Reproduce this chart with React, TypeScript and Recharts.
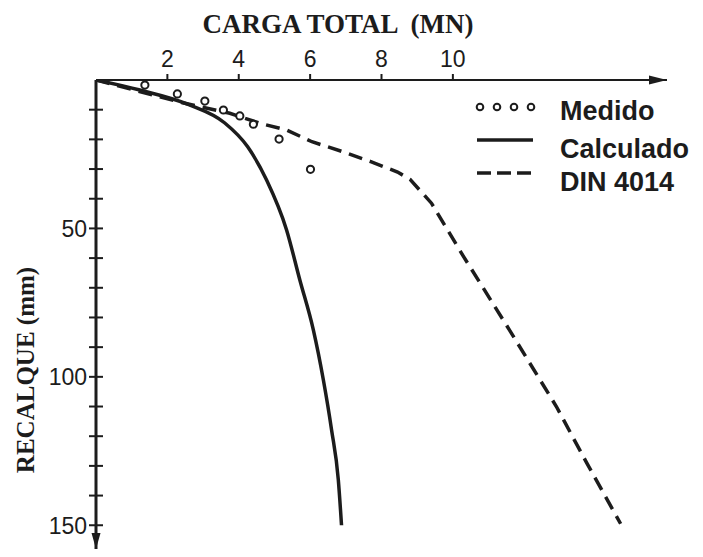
import React from "react";
import {
  ComposedChart,
  Line,
  Scatter,
  XAxis,
  YAxis,
  ReferenceDot,
} from "recharts";

// Carga total (MN) x recalque (mm)
const medido = [
  { x: 1.37, y: 1.7 },
  { x: 2.28, y: 4.7 },
  { x: 3.05, y: 7.1 },
  { x: 3.57, y: 10.1 },
  { x: 4.03, y: 12.1 },
  { x: 4.41, y: 14.9 },
  { x: 5.13, y: 19.9 },
  { x: 6.01, y: 30.1 },
];

const calculado = [
  { x: 0, y: 0 },
  { x: 1.2, y: 3.3 },
  { x: 2.6, y: 8.3 },
  { x: 3.6, y: 14.4 },
  { x: 4.25, y: 22.5 },
  { x: 4.78, y: 33.7 },
  { x: 5.34, y: 50.5 },
  { x: 5.71, y: 67.3 },
  { x: 6.09, y: 84.2 },
  { x: 6.37, y: 101 },
  { x: 6.6, y: 117.8 },
  { x: 6.79, y: 134.7 },
  { x: 6.88, y: 150 },
];

const din4014 = [
  { x: 0, y: 0 },
  { x: 2.4, y: 7.6 },
  { x: 3.75, y: 11.2 },
  { x: 4.6, y: 14.6 },
  { x: 5.35, y: 16.9 },
  { x: 6.05, y: 20.8 },
  { x: 6.9, y: 24.1 },
  { x: 7.7, y: 27.5 },
  { x: 8.45, y: 31 },
  { x: 8.8, y: 33.5 },
  { x: 9.4, y: 41.5 },
  { x: 10.3, y: 59.5 },
  { x: 11.6, y: 84.5 },
  { x: 12.9, y: 110 },
  { x: 13.75, y: 129 },
  { x: 14.7, y: 149.5 },
];

const xTicks = [2, 4, 6, 8, 10];
const yTicks = [10, 20, 30, 40, 50, 60, 70, 80, 90, 100, 110, 120, 130, 140, 150];
const yLabelled = [50, 100, 150];
const X_MAX = 16;
const Y_MAX = 158;

const INK = "#1c1c1c";
const SANS = "'Liberation Sans', Arial, sans-serif";
const SERIF = "'Liberation Serif', 'Times New Roman', serif";

const OpenCircle = (props: any) => (
  <circle cx={props.cx} cy={props.cy} r={3.6} fill="#fff" stroke={INK} strokeWidth={2} />
);

// y ticks cross the axis line on both sides
const YTick = (props: any) => {
  const { x, y, payload } = props;
  const v = payload.value;
  return (
    <g>
      <line x1={x - 7} x2={x + 7} y1={y} y2={y} stroke={INK} strokeWidth={2} />
      {yLabelled.includes(v) && (
        <text x={x - 9} y={y} dy="0.36em" textAnchor="end" fontFamily={SANS} fontSize={23} fill={INK}>
          {v}
        </text>
      )}
    </g>
  );
};

const ArrowRight = (props: any) => (
  <path d={`M${props.cx},${props.cy} L${props.cx - 18},${props.cy - 4.5} L${props.cx - 18},${props.cy + 4.5} Z`} fill={INK} />
);

const ArrowDown = (props: any) => (
  <path d={`M${props.cx},${props.cy} L${props.cx - 4.5},${props.cy - 16} L${props.cx + 4.5},${props.cy - 16} Z`} fill={INK} />
);

const legendItems = [
  { name: "Medido", kind: "dots", textY: 30 },
  { name: "Calculado", kind: "solid", textY: 68 },
  { name: "DIN 4014", kind: "dash", textY: 101 },
];

const LegendBox = () => (
  <svg width={233} height={115}>
    {legendItems.map((it, i) => {
      const sy = 17 + i * 33;
      return (
        <g key={it.name}>
          {it.kind === "dots" &&
            [0, 1, 2, 3].map((k) => (
              <circle key={k} cx={10 + k * 17} cy={sy} r={3.3} fill="#fff" stroke={INK} strokeWidth={2} />
            ))}
          {it.kind === "solid" && <line x1={7} x2={63} y1={sy} y2={sy} stroke={INK} strokeWidth={3.5} />}
          {it.kind === "dash" && (
            <line x1={7} x2={63} y1={sy} y2={sy} stroke={INK} strokeWidth={3.5} strokeDasharray="14 6" />
          )}
          <text x={90} y={it.textY} fontFamily={SANS} fontWeight={700} fontSize={27} fill={INK}>
            {it.name}
          </text>
        </g>
      );
    })}
  </svg>
);

export default function App() {
  return (
    <div style={{ position: "absolute", left: 0, top: 0, width: 703, height: 557, background: "#fff" }}>
      <ComposedChart width={703} height={557} margin={{ top: 30, right: 36, bottom: 8, left: 36 }}>
        <XAxis
          type="number"
          dataKey="x"
          orientation="top"
          domain={[0, X_MAX]}
          ticks={xTicks}
          allowDataOverflow
          height={50}
          axisLine={{ stroke: INK, strokeWidth: 2 }}
          tickLine={{ stroke: INK, strokeWidth: 2 }}
          tickSize={6}
          tickMargin={7}
          tick={{ fontFamily: SANS, fontSize: 23, fill: INK }}
          label={(p: any) => (
            <text
              x={p.viewBox.x + 242}
              y={p.viewBox.y + 3}
              textAnchor="middle"
              fontFamily={SERIF}
              fontWeight={700}
              fontSize={27}
              fill={INK}
              style={{ whiteSpace: "pre" }}
            >
              {"CARGA TOTAL  (MN)"}
            </text>
          )}
        />
        <YAxis
          type="number"
          dataKey="y"
          reversed
          domain={[0, Y_MAX]}
          ticks={yTicks}
          allowDataOverflow
          width={60}
          axisLine={{ stroke: INK, strokeWidth: 3 }}
          tickLine={false}
          tickSize={0}
          tickMargin={0}
          tick={<YTick />}
          label={(p: any) => (
            <text
              x={p.viewBox.x - 11}
              y={p.viewBox.y + 290}
              transform={`rotate(-90 ${p.viewBox.x - 11} ${p.viewBox.y + 290})`}
              textAnchor="middle"
              dominantBaseline="central"
              fontFamily={SERIF}
              fontWeight={700}
              fontSize={25}
              fill={INK}
            >
              RECALQUE (mm)
            </text>
          )}
        />
        <Line
          data={calculado}
          dataKey="y"
          name="Calculado"
          type="monotone"
          stroke={INK}
          strokeWidth={3.5}
          dot={false}
          isAnimationActive={false}
        />
        <Line
          data={din4014}
          dataKey="y"
          name="DIN 4014"
          type="linear"
          stroke={INK}
          strokeWidth={3.5}
          strokeDasharray="14 8"
          dot={false}
          isAnimationActive={false}
        />
        <Scatter data={medido} dataKey="y" name="Medido" shape={<OpenCircle />} isAnimationActive={false} />
        <ReferenceDot x={X_MAX} y={0} ifOverflow="visible" shape={<ArrowRight />} />
        <ReferenceDot x={0} y={Y_MAX} ifOverflow="visible" shape={<ArrowDown />} />
      </ComposedChart>
      <div style={{ position: "absolute", left: 470, top: 90 }}>
        <LegendBox />
      </div>
    </div>
  );
}
